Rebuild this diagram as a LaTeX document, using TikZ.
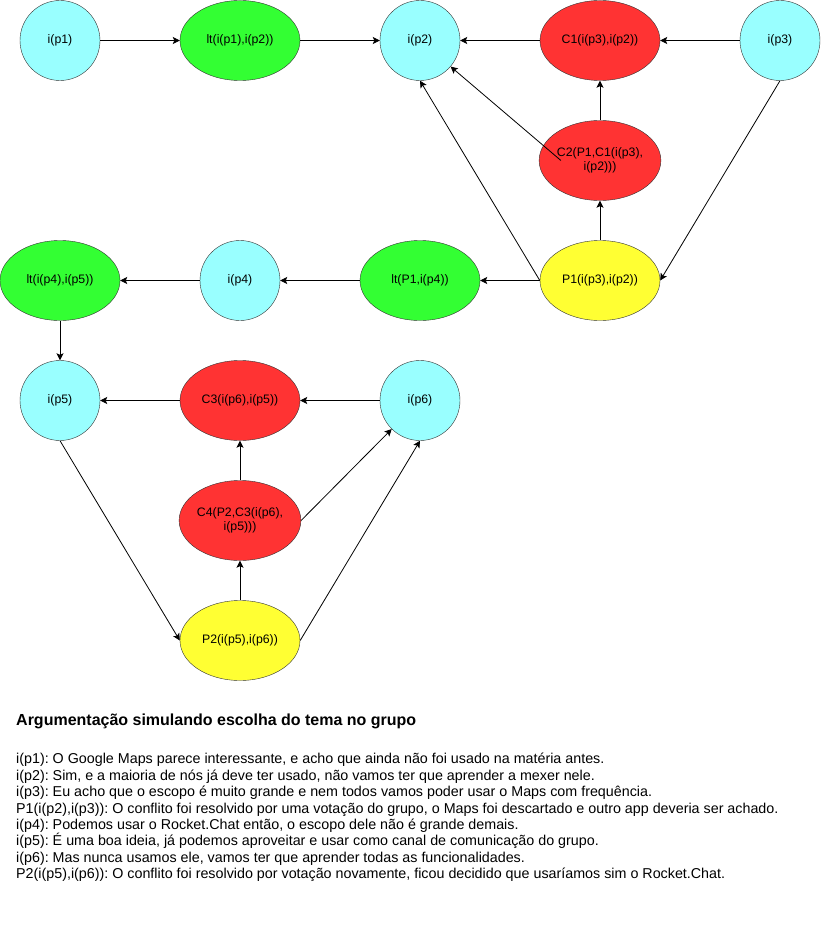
\documentclass[tikz,border=0pt]{standalone}
\usepackage{fontspec}
\setmainfont{Liberation Sans}
\usetikzlibrary{arrows.meta, shapes.geometric, positioning}
\usepackage{xcolor}

\definecolor{infocyan}{HTML}{99FFFF}
\definecolor{ltgreen}{HTML}{33FF33}
\definecolor{confred}{HTML}{FF3333}
\definecolor{propyellow}{HTML}{FFFF33}

\begin{document}
\frenchspacing
\begin{tikzpicture}[x=1pt,y=-1pt,node distance=180pt,on grid,
    >={Stealth[length=7pt,width=7pt,inset=1.5pt]},
    font=\fontsize{12.3}{14}\selectfont]
    \tikzstyle{info}=[shape=circle,draw=black!80,fill=infocyan,minimum size=80pt,inner sep=0pt]
    \tikzstyle{lt}=[shape=ellipse,draw=black!80,fill=ltgreen,minimum width=120pt,minimum height=80pt,inner sep=0pt]
    \tikzstyle{conf}=[shape=ellipse,draw=black!80,fill=confred,minimum width=120pt,minimum height=80pt,inner sep=0pt,align=center]
    \tikzstyle{prop}=[shape=ellipse,draw=black!80,fill=propyellow,minimum width=120pt,minimum height=80pt,inner sep=0pt]

    \useasboundingbox (0,0) rectangle (821,931);

    \node[info] (p1) at (60,40.5) {i(p1)};
    \node[lt,right=of p1] (lt12) {lt(i(p1),i(p2))};
    \node[info,right=of lt12] (p2) {i(p2)};
    \node[conf,right=of p2] (C1) {C1(i(p3),i(p2))};
    \node[info,right=of C1] (p3) {i(p3)};
    \node[conf,below=120pt of C1] (C2) {C2(P1,C1(i(p3),\\i(p2)))};
    \node[prop,below=120pt of C2] (P1) {P1(i(p3),i(p2))};
    \node[lt,left=of P1] (ltP1) {lt(P1,i(p4))};
    \node[info,left=of ltP1] (p4) {i(p4)};
    \node[lt,left=of p4] (lt45) {lt(i(p4),i(p5))};
    \node[info,below=120pt of lt45] (p5) {i(p5)};
    \node[conf,right=of p5] (C3) {C3(i(p6),i(p5))};
    \node[info,right=of C3] (p6) {i(p6)};
    \node[conf,below=120pt of C3] (C4) {C4(P2,C3(i(p6),\\i(p5)))};
    \node[prop,below=120pt of C4] (P2) {P2(i(p5),i(p6))};

    \path[->,line width=0.8pt]
    (p1) edge (lt12)
    (lt12) edge (p2)
    (C1) edge (p2)
    (p3) edge (C1)
    (C2) edge (C1)
    (P1) edge (C2)
    (P1.west) edge (p2.south)
    (p3.south) edge (P1.east)
    (P1) edge (ltP1)
    (ltP1) edge (p4)
    (p4) edge (lt45)
    (lt45) edge (p5)
    (C3) edge (p5)
    (p6) edge (C3)
    (C4) edge (C3)
    (C4.east) edge (p6)
    (P2) edge (C4)
    (P2.east) edge (p6.south)
    (p5.south) edge (P2.west)
    ;
    \draw[->,line width=0.8pt] ([xshift=22pt]C2.west) -- (p2);

    \node[anchor=west,inner sep=0pt,font=\bfseries\fontsize{16}{19}\selectfont] (titulo) at (16,721)
      {Argumentação simulando escolha do tema no grupo};
    \node[anchor=north west,align=left,inner sep=0pt,font=\fontsize{14.3}{16.45}\selectfont] (texto) at (16,753)
      {i(p1): O Google Maps parece interessante, e acho que ainda não foi usado na matéria antes.\\
       i(p2): Sim, e a maioria de nós já deve ter usado, não vamos ter que aprender a mexer nele.\\
       i(p3): Eu acho que o escopo é muito grande e nem todos vamos poder usar o Maps com frequência.\\
       P1(i(p2),i(p3)): O conflito foi resolvido por uma votação do grupo, o Maps foi descartado e outro app deveria ser achado.\\
       i(p4): Podemos usar o Rocket.Chat então, o escopo dele não é grande demais.\\
       i(p5): É uma boa ideia, já podemos aproveitar e usar como canal de comunicação do grupo.\\
       i(p6): Mas nunca usamos ele, vamos ter que aprender todas as funcionalidades.\\
       P2(i(p5),i(p6)): O conflito foi resolvido por votação novamente, ficou decidido que usaríamos sim o Rocket.Chat.};
\end{tikzpicture}
\end{document}
